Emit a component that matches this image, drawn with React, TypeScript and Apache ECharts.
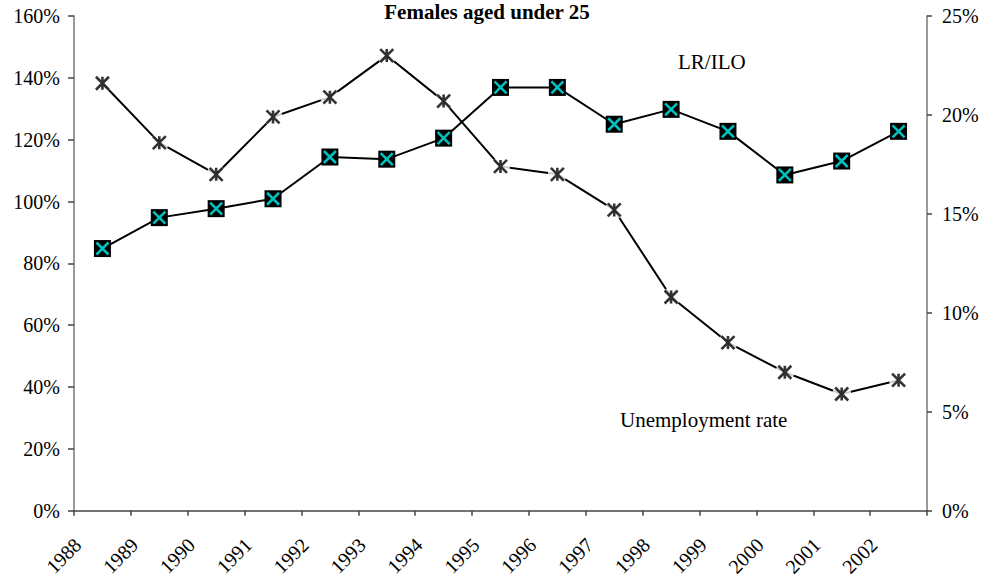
import React, { useEffect, useRef } from "react";
import * as echarts from "echarts";

const years = ["1988", "1989", "1990", "1991", "1992", "1993", "1994", "1995", "1996", "1997", "1998", "1999", "2000", "2001", "2002"];
const lrIloRatio = [84.8, 94.8, 97.7, 100.9, 114.4, 113.7, 120.5, 136.9, 136.9, 125.0, 129.8, 122.7, 108.6, 113.1, 122.7];
const unemploymentRate = [21.6, 18.6, 17.0, 19.9, 20.9, 23.0, 20.7, 17.4, 17.0, 15.2, 10.8, 8.5, 7.0, 5.9, 6.6];
const leftTicks = { min: 0, max: 160, interval: 20 };
const rightTicks = { min: 0, max: 25, interval: 5 };
const title = "Females aged under 25";
const ratioLabel = "LR/ILO";
const rateLabel = "Unemployment rate";

const FONT = '"Liberation Serif", "Times New Roman", serif';

export default function App() {
  const ref = useRef<HTMLDivElement>(null);
  useEffect(() => {
    if (!ref.current) return;
    const chart = echarts.init(ref.current, null, { renderer: "svg" });
    chart.setOption({
      animation: false,
      backgroundColor: "#fff",
      grid: { left: 74, right: 58, top: 16, bottom: 65, containLabel: false },
      xAxis: {
        type: "category",
        data: years,
        boundaryGap: true,
        axisLine: { lineStyle: { color: "#444", width: 1.5 } },
        axisTick: { show: true, length: 5, lineStyle: { color: "#444", width: 1.5 }, alignWithLabel: false },
        axisLabel: {
          rotate: 45,
          interval: 0,
          margin: 6,
          padding: [0, 35, 0, 0],
          color: "#000",
          fontFamily: FONT,
          fontSize: 20,
        },
        splitLine: { show: false },
      },
      yAxis: [
        {
          type: "value",
          min: leftTicks.min,
          max: leftTicks.max,
          interval: leftTicks.interval,
          position: "left",
          axisLine: { show: true, lineStyle: { color: "#777", width: 1.5 } },
          axisTick: { show: true, length: 6, lineStyle: { color: "#444", width: 1.5 } },
          axisLabel: { margin: 14, color: "#000", fontFamily: FONT, fontSize: 20, formatter: (v: number) => `${v}%` },
          splitLine: { show: false },
        },
        {
          type: "value",
          min: rightTicks.min,
          max: rightTicks.max,
          interval: rightTicks.interval,
          position: "right",
          axisLine: { show: true, lineStyle: { color: "#777", width: 1.5 } },
          axisTick: { show: true, inside: false, length: 5, lineStyle: { color: "#444", width: 1.5 } },
          axisLabel: { margin: 15, color: "#000", fontFamily: FONT, fontSize: 20, formatter: (v: number) => `${v}%` },
          splitLine: { show: false },
        },
      ],
      graphic: [
        {
          type: "text",
          x: 487,
          y: 12,
          style: { text: title, font: `bold 21px ${FONT}`, fill: "#000", textAlign: "center", textVerticalAlign: "middle" },
        },
        {
          type: "text",
          x: 678,
          y: 62,
          style: { text: ratioLabel, font: `21px ${FONT}`, fill: "#000", textVerticalAlign: "middle" },
        },
        {
          type: "text",
          x: 620,
          y: 420,
          style: { text: rateLabel, font: `21px ${FONT}`, fill: "#000", textVerticalAlign: "middle" },
        },
      ],
      series: [
        {
          name: "Unemployment rate",
          type: "line",
          yAxisIndex: 1,
          data: unemploymentRate,
          showSymbol: false,
          symbol: "none",
          lineStyle: { color: "#000", width: 2 },
          z: 1,
        },
        {
          type: "scatter",
          yAxisIndex: 1,
          data: unemploymentRate,
          symbol: "circle",
          symbolSize: 19,
          itemStyle: { color: "#fff" },
          z: 2,
        },
        {
          type: "scatter",
          yAxisIndex: 1,
          data: unemploymentRate,
          symbol: "path://M0,0L10,10M10,0L0,10M5,0L5,10",
          symbolSize: 13,
          itemStyle: { color: "transparent", borderColor: "#000", borderWidth: 2.6 },
          z: 3,
        },
        {
          name: "LR/ILO",
          type: "line",
          yAxisIndex: 0,
          data: lrIloRatio,
          symbol: "rect",
          symbolSize: 17,
          showSymbol: true,
          itemStyle: { color: "#000", borderWidth: 0 },
          lineStyle: { color: "#000", width: 2 },
          z: 4,
        },
        {
          type: "scatter",
          yAxisIndex: 0,
          data: lrIloRatio,
          symbol: "path://M0,0L10,10M10,0L0,10",
          symbolSize: 12,
          itemStyle: { color: "transparent", borderColor: "#00f0f0", borderWidth: 2.6 },
          z: 5,
        },
      ],
    });
    return () => chart.dispose();
  }, []);
  return <div ref={ref} style={{ width: 985, height: 579, position: "absolute", left: 0, top: 0 }} />;
}
